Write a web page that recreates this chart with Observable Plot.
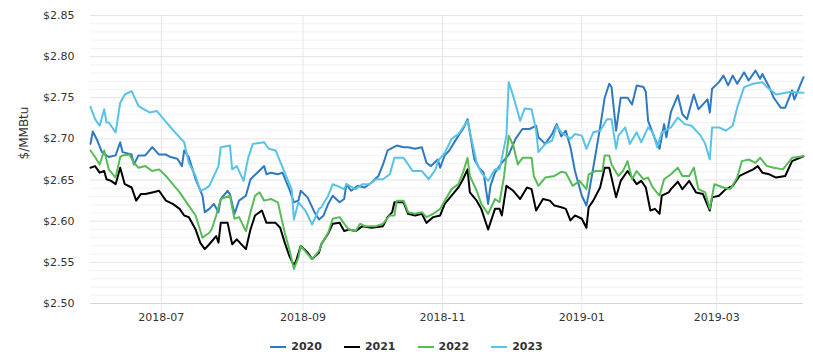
<!DOCTYPE html>
<html>
<head>
<meta charset="utf-8">
<script src="https://cdn.jsdelivr.net/npm/d3@7"></script>
<script src="https://cdn.jsdelivr.net/npm/@observablehq/plot@0.6"></script>
<style>
  html, body { margin: 0; padding: 0; background: #fff; }
  #wrap { width: 813px; height: 361px; font-family: "DejaVu Sans", sans-serif; }
  #legend { display: flex; justify-content: center; align-items: center; gap: 22px; height: 29px; margin-top: 0; font-family: "DejaVu Sans", sans-serif; font-size: 11px; font-weight: bold; color: #333; }
  .item { display: flex; align-items: center; gap: 5px; }
</style>
</head>
<body>
<div id="wrap"><div id="chart"></div><div id="legend"></div></div>
<script>
const seriesNames = ["2020", "2021", "2022", "2023"];
const seriesColors = ["#2f79c0", "#000000", "#58bb58", "#58c2e8"];

const yTicks = [2.50, 2.55, 2.60, 2.65, 2.70, 2.75, 2.80, 2.85];
const xTickDates = ["2018-07-01", "2018-09-01", "2018-11-01", "2019-01-01", "2019-03-01"];
const xTickLabels = ["2018-07", "2018-09", "2018-11", "2019-01", "2019-03"];
const yTitle = "$/MMBtu";

const s2020 = [["2018-05-31",2.694],["2018-06-01",2.709],["2018-06-03",2.698],["2018-06-05",2.684],["2018-06-08",2.678],["2018-06-11",2.680],["2018-06-13",2.696],["2018-06-14",2.684],["2018-06-18",2.681],["2018-06-19",2.669],["2018-06-21",2.680],["2018-06-24",2.680],["2018-06-27",2.690],["2018-06-30",2.681],["2018-07-03",2.681],["2018-07-05",2.678],["2018-07-08",2.676],["2018-07-10",2.667],["2018-07-11",2.686],["2018-07-13",2.678],["2018-07-16",2.651],["2018-07-19",2.631],["2018-07-20",2.611],["2018-07-22",2.615],["2018-07-24",2.621],["2018-07-26",2.611],["2018-07-27",2.627],["2018-07-30",2.637],["2018-07-31",2.633],["2018-08-02",2.609],["2018-08-04",2.625],["2018-08-07",2.631],["2018-08-09",2.651],["2018-08-12",2.659],["2018-08-15",2.667],["2018-08-16",2.657],["2018-08-18",2.659],["2018-08-21",2.657],["2018-08-23",2.659],["2018-08-26",2.639],["2018-08-28",2.623],["2018-08-30",2.625],["2018-08-31",2.637],["2018-09-03",2.629],["2018-09-06",2.611],["2018-09-08",2.602],["2018-09-10",2.607],["2018-09-12",2.621],["2018-09-14",2.631],["2018-09-17",2.623],["2018-09-19",2.627],["2018-09-20",2.645],["2018-09-22",2.637],["2018-09-25",2.643],["2018-09-28",2.641],["2018-10-01",2.647],["2018-10-04",2.655],["2018-10-06",2.669],["2018-10-08",2.686],["2018-10-12",2.692],["2018-10-15",2.690],["2018-10-17",2.690],["2018-10-20",2.688],["2018-10-23",2.690],["2018-10-25",2.671],["2018-10-27",2.667],["2018-10-30",2.675],["2018-10-31",2.665],["2018-11-02",2.680],["2018-11-04",2.686],["2018-11-08",2.704],["2018-11-10",2.712],["2018-11-12",2.724],["2018-11-13",2.708],["2018-11-15",2.675],["2018-11-17",2.665],["2018-11-19",2.659],["2018-11-21",2.621],["2018-11-22",2.643],["2018-11-24",2.659],["2018-11-27",2.671],["2018-11-30",2.681],["2018-12-03",2.700],["2018-12-06",2.712],["2018-12-09",2.712],["2018-12-12",2.716],["2018-12-13",2.702],["2018-12-16",2.694],["2018-12-19",2.706],["2018-12-21",2.718],["2018-12-23",2.703],["2018-12-25",2.710],["2018-12-27",2.690],["2018-12-29",2.661],["2019-01-01",2.631],["2019-01-03",2.619],["2019-01-04",2.633],["2019-01-06",2.665],["2019-01-09",2.714],["2019-01-11",2.750],["2019-01-13",2.767],["2019-01-14",2.763],["2019-01-16",2.710],["2019-01-18",2.750],["2019-01-21",2.750],["2019-01-23",2.742],["2019-01-25",2.765],["2019-01-28",2.763],["2019-01-29",2.757],["2019-01-30",2.722],["2019-02-02",2.700],["2019-02-04",2.688],["2019-02-06",2.718],["2019-02-07",2.702],["2019-02-09",2.733],["2019-02-12",2.753],["2019-02-14",2.730],["2019-02-16",2.724],["2019-02-19",2.754],["2019-02-21",2.736],["2019-02-23",2.742],["2019-02-25",2.748],["2019-02-26",2.732],["2019-02-27",2.761],["2019-03-02",2.769],["2019-03-04",2.777],["2019-03-06",2.765],["2019-03-08",2.777],["2019-03-10",2.767],["2019-03-13",2.781],["2019-03-15",2.771],["2019-03-18",2.783],["2019-03-20",2.773],["2019-03-21",2.779],["2019-03-24",2.763],["2019-03-26",2.750],["2019-03-29",2.738],["2019-03-31",2.738],["2019-04-03",2.759],["2019-04-04",2.748],["2019-04-08",2.775]];

const s2021 = [["2018-05-31",2.665],["2018-06-02",2.667],["2018-06-04",2.659],["2018-06-06",2.661],["2018-06-07",2.651],["2018-06-09",2.649],["2018-06-11",2.645],["2018-06-13",2.665],["2018-06-15",2.645],["2018-06-18",2.641],["2018-06-20",2.625],["2018-06-22",2.633],["2018-06-24",2.633],["2018-06-27",2.635],["2018-06-30",2.637],["2018-07-03",2.625],["2018-07-06",2.621],["2018-07-09",2.615],["2018-07-11",2.607],["2018-07-13",2.605],["2018-07-16",2.590],["2018-07-18",2.574],["2018-07-20",2.566],["2018-07-22",2.572],["2018-07-25",2.582],["2018-07-26",2.574],["2018-07-27",2.598],["2018-07-30",2.598],["2018-08-01",2.572],["2018-08-03",2.578],["2018-08-07",2.566],["2018-08-09",2.590],["2018-08-11",2.607],["2018-08-14",2.613],["2018-08-16",2.598],["2018-08-20",2.598],["2018-08-22",2.592],["2018-08-24",2.574],["2018-08-26",2.558],["2018-08-28",2.546],["2018-08-29",2.552],["2018-08-31",2.570],["2018-09-03",2.562],["2018-09-05",2.554],["2018-09-08",2.562],["2018-09-09",2.572],["2018-09-12",2.585],["2018-09-14",2.597],["2018-09-17",2.598],["2018-09-19",2.588],["2018-09-21",2.590],["2018-09-24",2.588],["2018-09-27",2.594],["2018-10-01",2.592],["2018-10-06",2.594],["2018-10-08",2.605],["2018-10-10",2.611],["2018-10-11",2.623],["2018-10-15",2.623],["2018-10-17",2.609],["2018-10-20",2.607],["2018-10-23",2.609],["2018-10-25",2.598],["2018-10-28",2.605],["2018-10-31",2.607],["2018-11-02",2.621],["2018-11-05",2.631],["2018-11-08",2.641],["2018-11-10",2.651],["2018-11-12",2.663],["2018-11-13",2.635],["2018-11-16",2.625],["2018-11-18",2.615],["2018-11-21",2.590],["2018-11-24",2.615],["2018-11-26",2.615],["2018-11-27",2.607],["2018-11-29",2.643],["2018-12-02",2.637],["2018-12-05",2.627],["2018-12-08",2.641],["2018-12-10",2.639],["2018-12-12",2.613],["2018-12-15",2.627],["2018-12-18",2.625],["2018-12-20",2.619],["2018-12-23",2.617],["2018-12-25",2.615],["2018-12-27",2.601],["2018-12-29",2.607],["2019-01-01",2.603],["2019-01-03",2.592],["2019-01-04",2.617],["2019-01-06",2.625],["2019-01-09",2.641],["2019-01-11",2.665],["2019-01-13",2.665],["2019-01-14",2.653],["2019-01-16",2.629],["2019-01-18",2.649],["2019-01-21",2.661],["2019-01-23",2.653],["2019-01-25",2.645],["2019-01-27",2.649],["2019-01-29",2.641],["2019-01-31",2.613],["2019-02-02",2.615],["2019-02-04",2.609],["2019-02-05",2.631],["2019-02-08",2.635],["2019-02-09",2.639],["2019-02-12",2.648],["2019-02-14",2.639],["2019-02-17",2.649],["2019-02-20",2.635],["2019-02-23",2.633],["2019-02-26",2.613],["2019-02-27",2.629],["2019-03-02",2.631],["2019-03-05",2.639],["2019-03-08",2.643],["2019-03-11",2.655],["2019-03-14",2.659],["2019-03-17",2.663],["2019-03-19",2.667],["2019-03-21",2.659],["2019-03-24",2.657],["2019-03-27",2.653],["2019-03-31",2.655],["2019-04-03",2.673],["2019-04-08",2.679]];

const s2022 = [["2018-05-31",2.686],["2018-06-02",2.678],["2018-06-04",2.669],["2018-06-06",2.686],["2018-06-08",2.663],["2018-06-11",2.653],["2018-06-13",2.678],["2018-06-14",2.680],["2018-06-17",2.681],["2018-06-19",2.671],["2018-06-21",2.665],["2018-06-24",2.667],["2018-06-27",2.661],["2018-06-30",2.663],["2018-07-03",2.655],["2018-07-06",2.645],["2018-07-09",2.635],["2018-07-13",2.619],["2018-07-16",2.607],["2018-07-19",2.580],["2018-07-20",2.582],["2018-07-22",2.586],["2018-07-23",2.590],["2018-07-25",2.607],["2018-07-27",2.627],["2018-07-31",2.631],["2018-08-02",2.603],["2018-08-04",2.605],["2018-08-07",2.588],["2018-08-09",2.611],["2018-08-11",2.631],["2018-08-13",2.635],["2018-08-15",2.625],["2018-08-18",2.627],["2018-08-21",2.623],["2018-08-24",2.586],["2018-08-26",2.566],["2018-08-28",2.542],["2018-08-30",2.556],["2018-08-31",2.570],["2018-09-03",2.560],["2018-09-05",2.554],["2018-09-08",2.564],["2018-09-09",2.572],["2018-09-12",2.586],["2018-09-14",2.603],["2018-09-17",2.605],["2018-09-19",2.597],["2018-09-21",2.590],["2018-09-24",2.588],["2018-09-26",2.597],["2018-09-28",2.594],["2018-10-03",2.594],["2018-10-06",2.597],["2018-10-09",2.607],["2018-10-11",2.607],["2018-10-12",2.625],["2018-10-15",2.625],["2018-10-17",2.611],["2018-10-20",2.609],["2018-10-23",2.611],["2018-10-25",2.605],["2018-10-28",2.609],["2018-10-30",2.613],["2018-10-31",2.615],["2018-11-02",2.625],["2018-11-05",2.639],["2018-11-08",2.645],["2018-11-10",2.659],["2018-11-12",2.677],["2018-11-13",2.655],["2018-11-16",2.637],["2018-11-18",2.621],["2018-11-21",2.609],["2018-11-24",2.627],["2018-11-26",2.623],["2018-11-28",2.655],["2018-11-30",2.704],["2018-12-02",2.692],["2018-12-04",2.669],["2018-12-06",2.677],["2018-12-10",2.677],["2018-12-11",2.655],["2018-12-13",2.643],["2018-12-16",2.653],["2018-12-20",2.655],["2018-12-23",2.660],["2018-12-25",2.659],["2018-12-28",2.643],["2018-12-31",2.649],["2019-01-03",2.639],["2019-01-04",2.657],["2019-01-07",2.661],["2019-01-10",2.661],["2019-01-11",2.680],["2019-01-13",2.680],["2019-01-14",2.669],["2019-01-17",2.655],["2019-01-19",2.661],["2019-01-21",2.673],["2019-01-23",2.651],["2019-01-25",2.661],["2019-01-28",2.651],["2019-01-30",2.653],["2019-02-01",2.641],["2019-02-04",2.631],["2019-02-06",2.651],["2019-02-09",2.657],["2019-02-12",2.665],["2019-02-14",2.655],["2019-02-17",2.655],["2019-02-19",2.665],["2019-02-21",2.639],["2019-02-24",2.635],["2019-02-26",2.615],["2019-02-28",2.645],["2019-03-04",2.641],["2019-03-07",2.639],["2019-03-10",2.653],["2019-03-12",2.673],["2019-03-15",2.675],["2019-03-18",2.671],["2019-03-20",2.677],["2019-03-23",2.667],["2019-03-26",2.665],["2019-03-30",2.663],["2019-04-03",2.677],["2019-04-08",2.679]];

const s2023 = [["2018-05-31",2.739],["2018-06-02",2.724],["2018-06-04",2.716],["2018-06-06",2.736],["2018-06-07",2.720],["2018-06-08",2.720],["2018-06-11",2.708],["2018-06-13",2.744],["2018-06-15",2.754],["2018-06-18",2.758],["2018-06-21",2.740],["2018-06-26",2.732],["2018-06-29",2.734],["2018-07-02",2.724],["2018-07-07",2.708],["2018-07-11",2.696],["2018-07-13",2.671],["2018-07-16",2.655],["2018-07-18",2.637],["2018-07-20",2.639],["2018-07-22",2.643],["2018-07-24",2.655],["2018-07-26",2.667],["2018-07-27",2.690],["2018-07-31",2.692],["2018-08-01",2.663],["2018-08-03",2.667],["2018-08-06",2.649],["2018-08-08",2.677],["2018-08-10",2.694],["2018-08-15",2.696],["2018-08-17",2.688],["2018-08-20",2.686],["2018-08-24",2.659],["2018-08-27",2.639],["2018-08-28",2.602],["2018-08-30",2.623],["2018-09-02",2.613],["2018-09-05",2.596],["2018-09-08",2.615],["2018-09-09",2.617],["2018-09-12",2.631],["2018-09-14",2.645],["2018-09-16",2.643],["2018-09-19",2.639],["2018-09-20",2.645],["2018-09-24",2.639],["2018-09-27",2.645],["2018-09-30",2.645],["2018-10-03",2.651],["2018-10-06",2.651],["2018-10-09",2.657],["2018-10-11",2.677],["2018-10-15",2.677],["2018-10-19",2.661],["2018-10-23",2.661],["2018-10-26",2.651],["2018-10-29",2.663],["2018-10-30",2.673],["2018-11-02",2.683],["2018-11-05",2.700],["2018-11-08",2.706],["2018-11-12",2.722],["2018-11-14",2.696],["2018-11-16",2.671],["2018-11-18",2.659],["2018-11-21",2.649],["2018-11-24",2.663],["2018-11-26",2.663],["2018-11-29",2.704],["2018-11-30",2.769],["2018-12-02",2.752],["2018-12-05",2.722],["2018-12-07",2.737],["2018-12-10",2.736],["2018-12-12",2.710],["2018-12-13",2.684],["2018-12-16",2.694],["2018-12-19",2.698],["2018-12-21",2.716],["2018-12-23",2.708],["2018-12-27",2.700],["2018-12-29",2.706],["2019-01-01",2.704],["2019-01-03",2.688],["2019-01-06",2.708],["2019-01-09",2.710],["2019-01-12",2.724],["2019-01-14",2.724],["2019-01-16",2.688],["2019-01-17",2.704],["2019-01-20",2.714],["2019-01-22",2.694],["2019-01-25",2.708],["2019-01-27",2.696],["2019-01-30",2.714],["2019-02-01",2.708],["2019-02-03",2.690],["2019-02-05",2.708],["2019-02-09",2.714],["2019-02-12",2.726],["2019-02-15",2.718],["2019-02-18",2.716],["2019-02-22",2.704],["2019-02-24",2.694],["2019-02-26",2.675],["2019-02-27",2.714],["2019-03-02",2.714],["2019-03-05",2.710],["2019-03-08",2.716],["2019-03-10",2.738],["2019-03-13",2.763],["2019-03-17",2.767],["2019-03-21",2.769],["2019-03-23",2.763],["2019-03-27",2.754],["2019-04-02",2.757],["2019-04-08",2.756]];

const seriesData = [s2020, s2021, s2022, s2023];

const rows = [];
seriesData.forEach((arr, k) => {
  for (const [d, v] of arr) rows.push({date: new Date(d), value: v, series: seriesNames[k]});
});

const xTicks = xTickDates.map(d => new Date(d));
const labelByTime = new Map(xTicks.map((d, i) => [+d, xTickLabels[i]]));
const minorTicks = d3.range(250, 286).map(v => v / 100).filter(v => !yTicks.some(t => Math.abs(t - v) < 1e-9));
const majorGrid = yTicks.filter(v => v > 2.5);

const chart = Plot.plot({
  width: 813,
  height: 332,
  marginLeft: 90,
  marginRight: 10,
  marginTop: 15,
  marginBottom: 29,
  style: {fontFamily: "DejaVu Sans, sans-serif", fontSize: "11px", color: "#333", background: "#fff", overflow: "visible"},
  x: {type: "utc", domain: [new Date("2018-05-31"), new Date("2019-04-08")]},
  y: {domain: [2.5, 2.85]},
  color: {domain: seriesNames, range: seriesColors},
  marks: [
    Plot.ruleY(minorTicks, {stroke: "#f1f1f1", strokeWidth: 1}),
    Plot.ruleY(majorGrid, {stroke: "#e4e4e4", strokeWidth: 1}),
    Plot.ruleX(xTicks, {stroke: "#e6e6e6", strokeWidth: 1}),
    Plot.ruleY([2.5], {stroke: "#ccd6eb", strokeWidth: 1}),
    Plot.axisX({ticks: xTicks, tickFormat: d => labelByTime.get(+d), tickSize: 8, tickPadding: 2, stroke: "#e6e6e6", fill: "#333", label: null}),
    Plot.axisY({ticks: yTicks, tickFormat: d => "$" + d.toFixed(2), tickSize: 0, tickPadding: 16, fill: "#333", label: null}),
    Plot.text([yTitle], {frameAnchor: "left", rotate: -90, dx: -66, fontSize: 12, fill: "#333"}),
    Plot.line(rows, {x: "date", y: "value", z: "series", stroke: "series", strokeWidth: 2, strokeLinejoin: "round", strokeLinecap: "round"})
  ]
});
document.getElementById("chart").appendChild(chart);

const legend = document.getElementById("legend");
seriesNames.forEach((name, i) => {
  const item = document.createElement("div");
  item.className = "item";
  item.innerHTML = `<svg width="16" height="10"><line x1="0" y1="5" x2="16" y2="5" stroke="${seriesColors[i]}" stroke-width="2"/></svg><span>${name}</span>`;
  legend.appendChild(item);
});
</script>
</body>
</html>
